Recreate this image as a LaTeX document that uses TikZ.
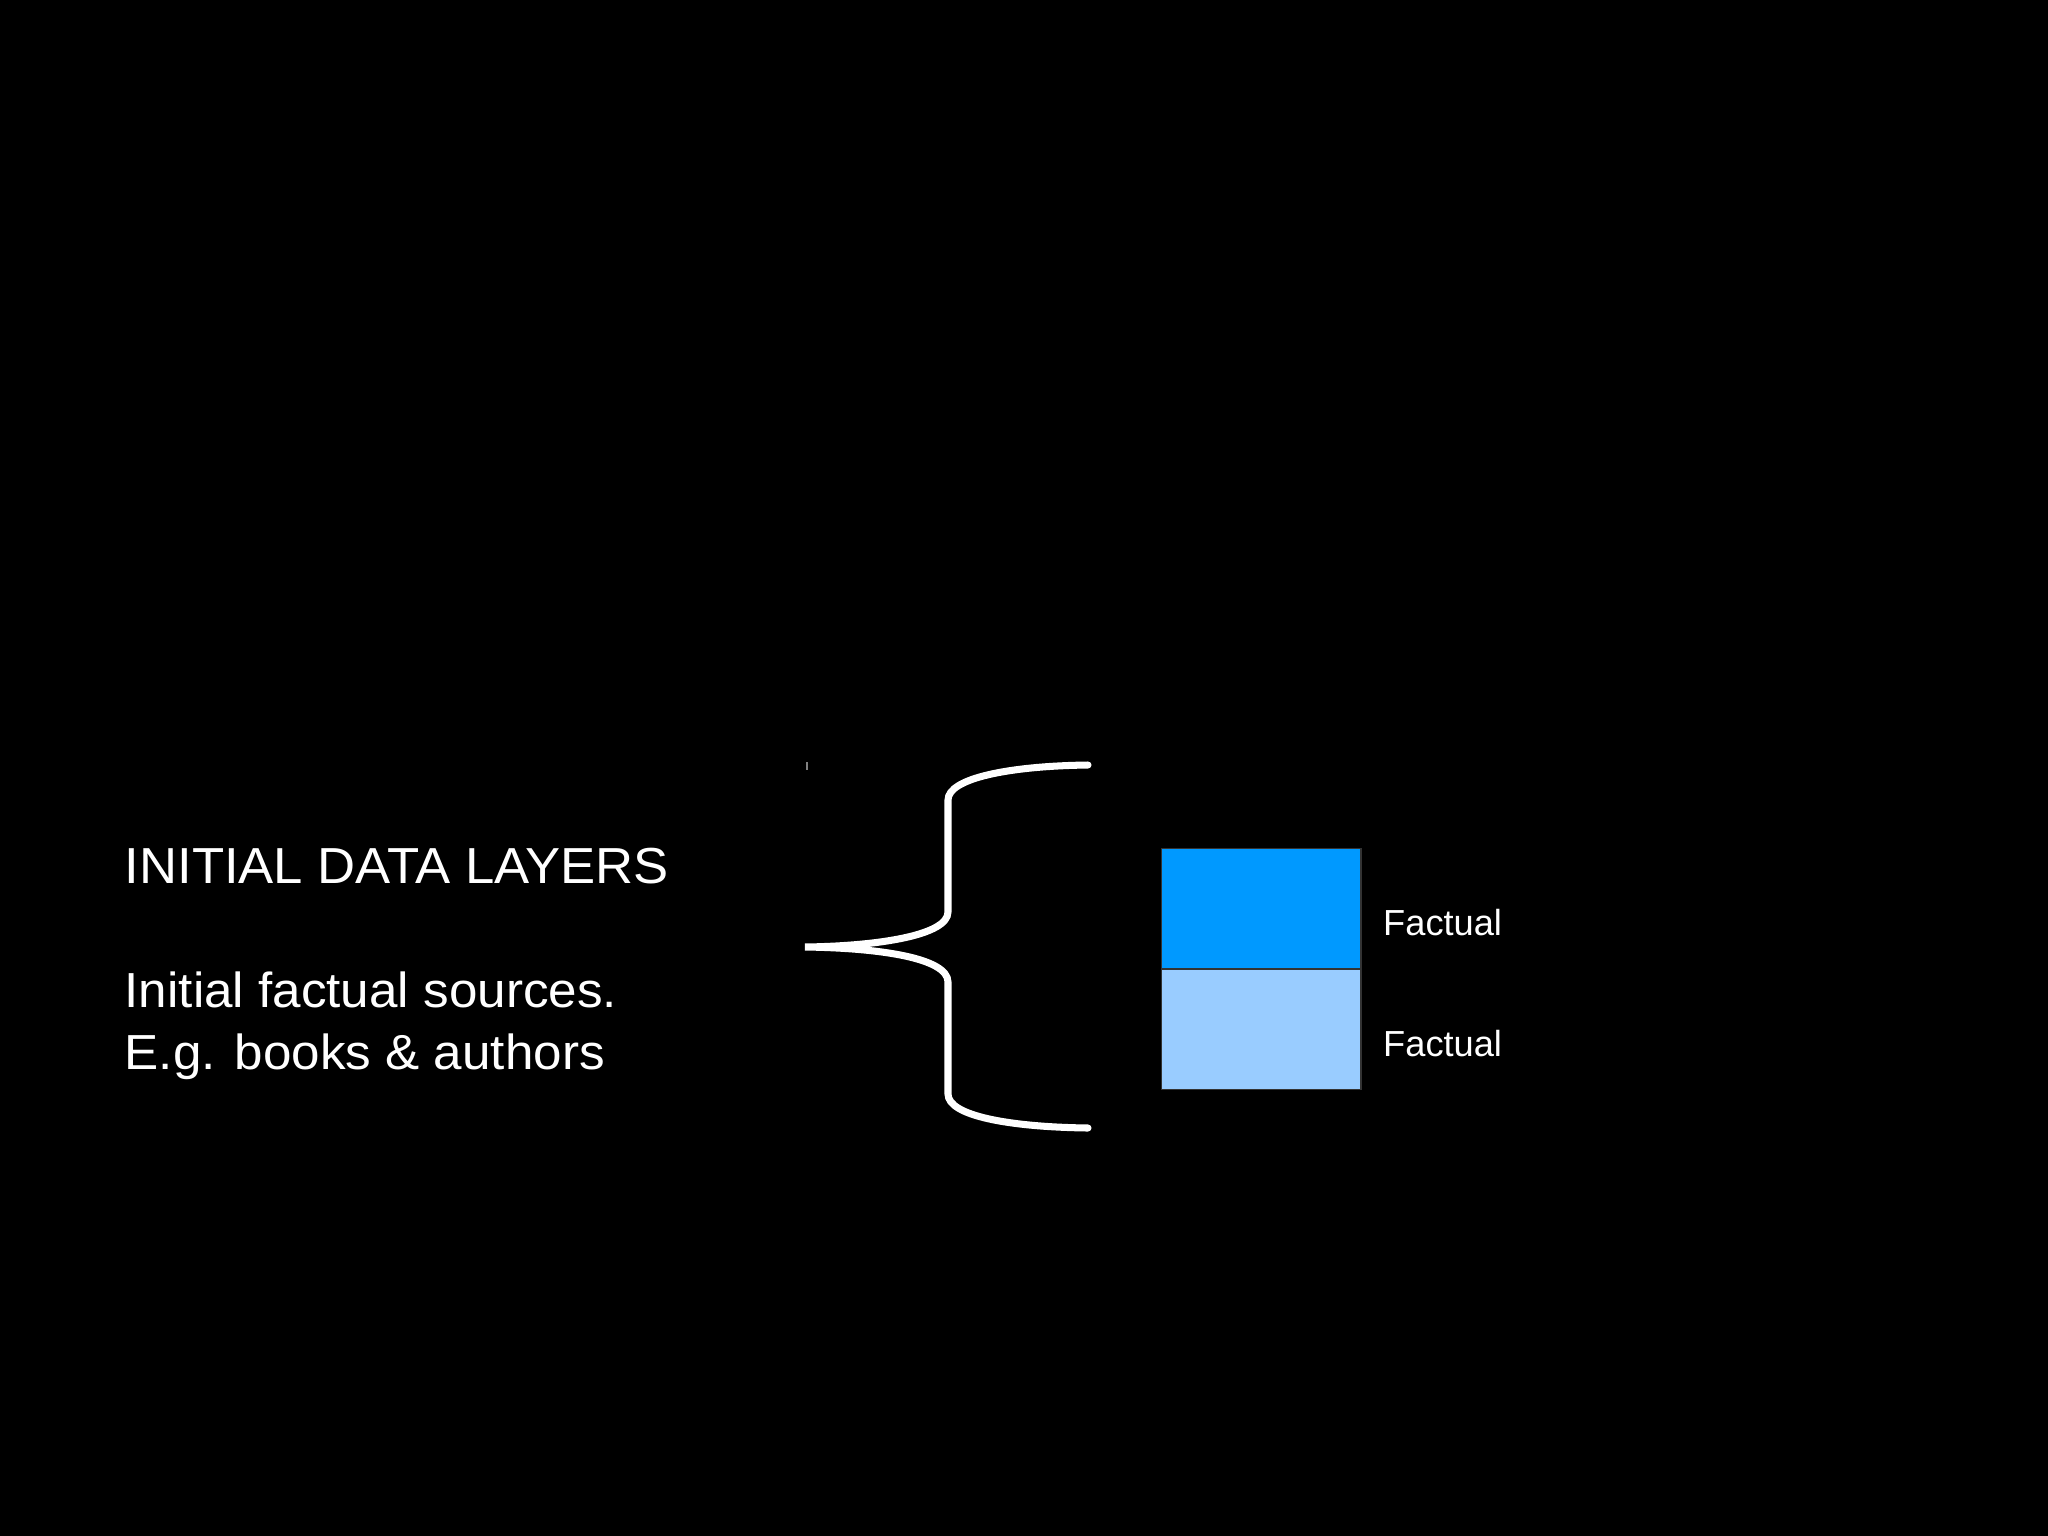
\documentclass[tikz,border=0pt]{standalone}
\usepackage{fontspec}
\setmainfont{Liberation Sans}
\newfontfamily\widefont[FakeStretch=1.04]{Liberation Sans}
\usepackage{tikz}
\usetikzlibrary{
  positioning,
  calc
}
\definecolor{layerdark}{HTML}{0099FF}
\definecolor{layerlight}{HTML}{99CCFF}

\begin{document}
\begin{tikzpicture}[
      x=0.01cm, y=-0.01cm,
      layerbox/.style={rectangle, draw=black!80, line width=0.4pt, minimum width=1.99cm, minimum height=1.195cm, inner sep=0pt},
      layerlabel/.style={text=white, font=\fontsize{10.3pt}{12pt}\selectfont, inner sep=0pt, anchor=base west},
      bigtext/.style={text=white, anchor=base west, inner sep=0pt, font=\widefont\fontsize{14pt}{14.4pt}\selectfont},
      bracestyle/.style={draw=white, line width=2pt, line cap=round}
    ]
      % Background
      \fill[black] (0,0) rectangle (2048,1536);

      % Left text
      \node[bigtext, font=\widefont\fontsize{14.4pt}{14.6pt}\selectfont] (title) at (124,883) {INITIAL DATA LAYERS};
      \node[bigtext] (desc1) at (124,1007) {Initial factual sources.};
      \node[bigtext] (desc2) at (124,1069) {E.g. books \& authors};

      % Layers
      \node[layerbox, fill=layerdark, anchor=north west] (layer1) at (1161,848) {};
      \node[layerbox, fill=layerlight, below=0pt of layer1] (layer2) {};

      % Layer labels
      \node[layerlabel] (label1) at ($(layer1.east)+(21,27)$) {Factual};
      \node[layerlabel] (label2) at ($(layer2.east)+(21,27)$) {Factual};

      % Brace
      \coordinate (btop) at (1088,765);
      \coordinate (btip) at (805,947);
      \coordinate (bbot) at (1088,1128);
      \draw[bracestyle] (btop) .. controls (1010,766) and (948,778) .. (948,800)
        -- (948,912) .. controls (948,935) and (880,946) .. (btip)
        .. controls (880,948) and (948,958) .. (948,982)
        -- (948,1094) .. controls (948,1116) and (1010,1127) .. (bbot);

      % Small mark
      \coordinate (mark) at (807,762);
      \draw[gray, line width=0.3pt] (mark) -- ++(0,8);
    \end{tikzpicture}
\end{document}
